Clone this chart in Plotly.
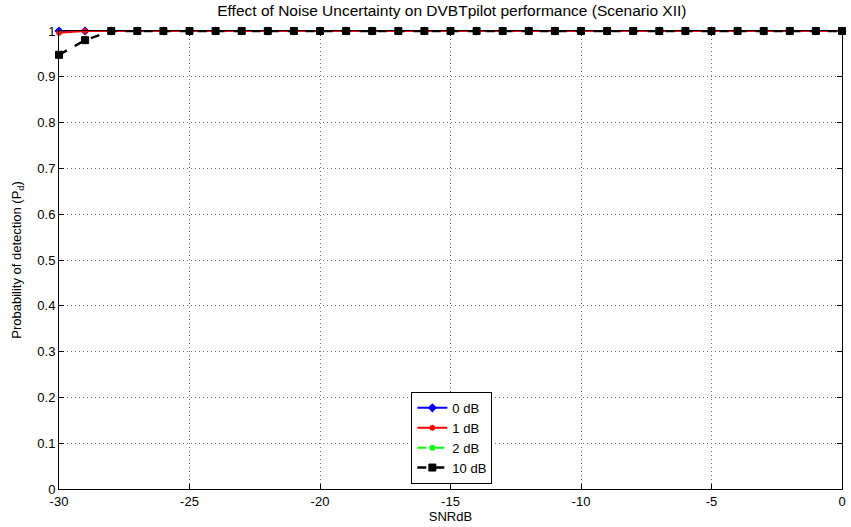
import plotly.graph_objects as go

# SNR sweep in dB
snr_db = list(range(-30, 1))

# Probability of detection for each noise-uncertainty level
pd_0db = [1.0] * 31
pd_1db = [0.996] + [1.0] * 30
pd_2db = [1.0] * 31
pd_10db = [0.948, 0.980] + [1.0] * 29

series_names = ["0 dB", "1 dB", "2 dB", "10 dB"]

y_tick_vals = [i / 10 for i in range(11)]
y_tick_text = ["0", "0.1", "0.2", "0.3", "0.4", "0.5", "0.6", "0.7", "0.8", "0.9", "1"]
x_tick_vals = [-30, -25, -20, -15, -10, -5, 0]
x_tick_text = ["-30", "-25", "-20", "-15", "-10", "-5", "0"]

fig = go.Figure()

# drawing order: 2 dB underneath, then 0 dB, 1 dB, 10 dB on top; legendrank keeps the key order
fig.add_trace(go.Scatter(
    x=snr_db, y=pd_2db, name=series_names[2], mode="lines+markers", cliponaxis=False,
    legendrank=3,
    line=dict(color="#00ff00", width=2, dash="dash"),
    marker=dict(symbol="circle", size=6, color="#00ff00"),
))
fig.add_trace(go.Scatter(
    x=snr_db, y=pd_0db, name=series_names[0], mode="lines+markers", cliponaxis=False,
    legendrank=1,
    line=dict(color="#0000ff", width=2),
    marker=dict(symbol="diamond", size=7, color="#0000ff"),
))
fig.add_trace(go.Scatter(
    x=snr_db, y=pd_1db, name=series_names[1], mode="lines+markers", cliponaxis=False,
    legendrank=2,
    line=dict(color="#ff0000", width=2),
    marker=dict(symbol="asterisk", size=5, color="#ff0000", line=dict(color="#ff0000", width=1.5)),
))
fig.add_trace(go.Scatter(
    x=snr_db, y=pd_10db, name=series_names[3], mode="lines+markers", cliponaxis=False,
    legendrank=4,
    line=dict(color="#000000", width=2.5, dash="dash"),
    marker=dict(symbol="square", size=7, color="#000000", line=dict(color="#000000", width=1)),
))

font_family = "Liberation Sans, Arial, sans-serif"

fig.update_layout(
    width=851, height=527,
    margin=dict(l=59, r=5, t=31, b=38),
    paper_bgcolor="white", plot_bgcolor="white",
    font=dict(family=font_family, size=12, color="black"),
    title=dict(
        text="Effect of Noise Uncertainty on DVBTpilot performance (Scenario XII)",
        x=0.531, xanchor="center", y=0.99, yanchor="top",
        font=dict(size=15.5),
    ),
    showlegend=True,
    legend=dict(
        x=0.45, y=0.212, xanchor="left", yanchor="top",
        bgcolor="white", bordercolor="black", borderwidth=1,
        font=dict(size=13), tracegroupgap=0, itemwidth=30,
    ),
)

fig.update_xaxes(
    range=[-30, 0], tickmode="array", tickvals=x_tick_vals, ticktext=x_tick_text,
    tickfont=dict(size=13),
    showline=True, linecolor="black", linewidth=1, mirror="ticks",
    ticks="inside", ticklen=5, tickcolor="black",
    showgrid=True, gridcolor="#6f6f6f", griddash="1px,3px", gridwidth=1,
    zeroline=False,
    title=dict(text="SNRdB", standoff=0, font=dict(size=13)),
)
fig.update_yaxes(
    range=[0, 1], tickmode="array", tickvals=y_tick_vals, ticktext=y_tick_text,
    tickfont=dict(size=13),
    showline=True, linecolor="black", linewidth=1, mirror="ticks",
    ticks="inside", ticklen=5, tickcolor="black",
    showgrid=True, gridcolor="#6f6f6f", griddash="1px,3px", gridwidth=1,
    zeroline=False,
    title=dict(text="Probability of detection (P<sub>d</sub>)", standoff=12, font=dict(size=13)),
)

fig.write_html("out.html")
